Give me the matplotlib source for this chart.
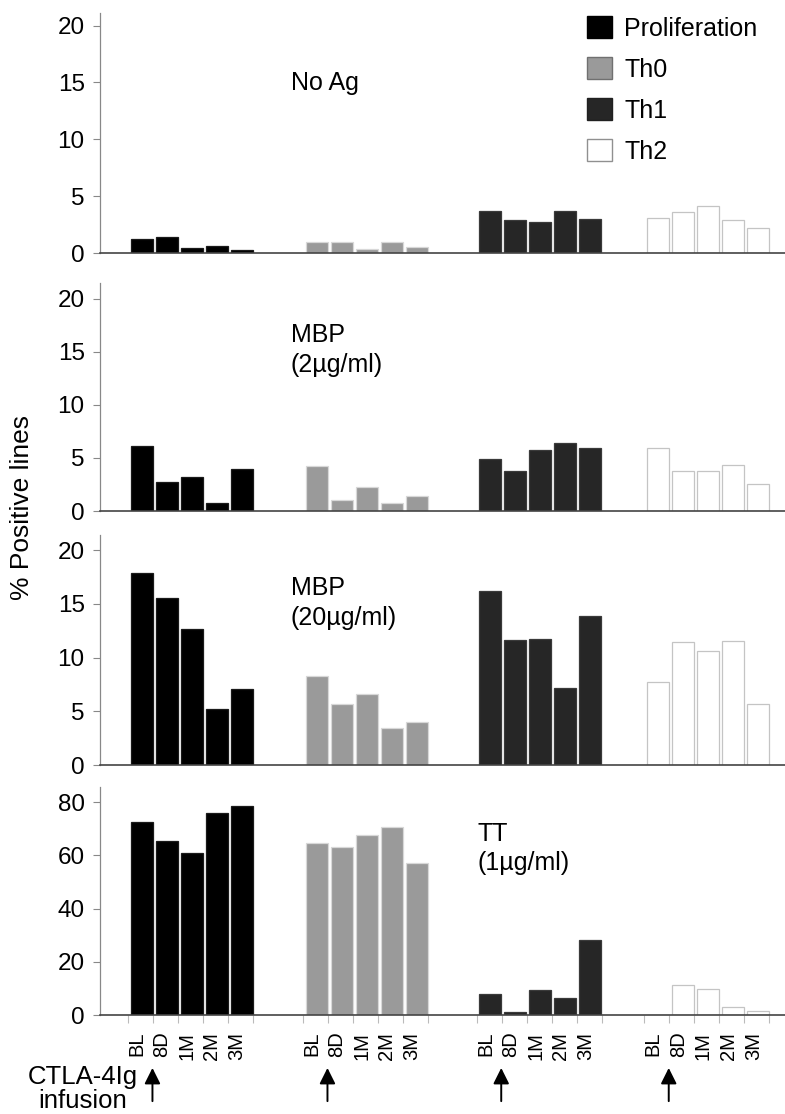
import numpy as np
import matplotlib.pyplot as plt
from matplotlib.patches import Patch

plt.rcParams['font.family'] = ['Liberation Sans', 'DejaVu Sans']

timepoints = ['BL', '8D', '1M', '2M', '3M']
series = ['Proliferation', 'Th0', 'Th1', 'Th2']

# % positive lines per panel, series order: Proliferation, Th0, Th1, Th2
noag_prolif = [1.2, 1.4, 0.4, 0.6, 0.25]
noag_th0 = [1.0, 1.0, 0.35, 1.0, 0.55]
noag_th1 = [3.7, 2.9, 2.7, 3.7, 3.0]
noag_th2 = [3.1, 3.6, 4.1, 2.9, 2.2]

mbp2_prolif = [6.1, 2.7, 3.2, 0.75, 4.0]
mbp2_th0 = [4.2, 1.0, 2.3, 0.8, 1.4]
mbp2_th1 = [4.9, 3.8, 5.75, 6.4, 5.9]
mbp2_th2 = [5.9, 3.75, 3.8, 4.3, 2.5]

mbp20_prolif = [17.9, 15.5, 12.7, 5.2, 7.1]
mbp20_th0 = [8.3, 5.65, 6.6, 3.45, 4.0]
mbp20_th1 = [16.2, 11.6, 11.7, 7.2, 13.9]
mbp20_th2 = [7.7, 11.4, 10.6, 11.5, 5.65]

tt_prolif = [72.4, 65.4, 60.8, 75.9, 78.5]
tt_th0 = [64.8, 63.0, 67.6, 70.8, 57.0]
tt_th1 = [7.8, 1.2, 9.5, 6.3, 28.1]
tt_th2 = [0, 11.2, 9.7, 2.9, 1.4]

panels = [
    ('No Ag', [noag_prolif, noag_th0, noag_th1, noag_th2]),
    ('MBP\n(2\u00b5g/ml)', [mbp2_prolif, mbp2_th0, mbp2_th1, mbp2_th2]),
    ('MBP\n(20\u00b5g/ml)', [mbp20_prolif, mbp20_th0, mbp20_th1, mbp20_th2]),
    ('TT\n(1\u00b5g/ml)', [tt_prolif, tt_th0, tt_th1, tt_th2]),
]

fills = ['#000000', '#9a9a9a', '#262626', '#ffffff']
edges = ['#1a1a1a', '#d8d8d8', '#3a3a3a', '#c4c4c4']
group_start = [0, 7, 13.95, 20.65]

W, H = 785, 1114
fig = plt.figure(figsize=(W / 100, H / 100), dpi=100)

# axes boxes in pixels: (bottom, top)
boxes = [(253, 13), (511, 283), (765, 535), (1015, 787)]
ylims = [21.1, 21.5, 21.4, 85.7]
yticks = [[0, 5, 10, 15, 20]] * 3 + [[0, 20, 40, 60, 80]]
label_pos = [(5.97, 16.0), (5.97, 17.7), (5.97, 17.6), (13.45, 72.7)]

axes = []
for k, (title, data) in enumerate(panels):
    b, t = boxes[k]
    ax = fig.add_axes([100 / W, 1 - b / H, (W - 100) / W, (b - t) / H])
    for s in range(4):
        pos = group_start[s] + np.arange(5)
        ax.bar(pos, data[s], width=0.88, color=fills[s], edgecolor=edges[s], linewidth=0.9)
    ax.set_xlim(-1.668, 25.73)
    ax.set_ylim(0, ylims[k])
    ax.set_yticks(yticks[k])
    ax.tick_params(axis='y', length=5, width=0.8, color='#888888', pad=6, labelsize=17.5)
    ax.spines['top'].set_visible(False)
    ax.spines['right'].set_visible(False)
    ax.spines['left'].set_color('#888888')
    ax.spines['left'].set_linewidth(0.9)
    ax.spines['bottom'].set_color('#444444')
    ax.spines['bottom'].set_linewidth(1.2)
    ax.set_xticks([])
    ax.text(label_pos[k][0], label_pos[k][1], title, fontsize=18, ha='left', va='top',
            linespacing=1.3)
    axes.append(ax)

# bottom panel: time-point labels and slot ticks
ax = axes[-1]
lab_x, tick_x = [], []
for s in range(4):
    pos = group_start[s] + np.arange(5)
    lab_x += list(pos - 0.19)
    tick_x += list(pos - 0.55) + [pos[-1] + 0.45]
ax.set_xticks(lab_x)
ax.set_xticklabels(timepoints * 4, rotation=90, fontsize=14.5)
ax.tick_params(axis='x', which='major', length=0, pad=12)
ax.set_xticks(tick_x, minor=True)
ax.tick_params(axis='x', which='minor', length=6, width=0.8, color='#bbbbbb')

for s in range(4):
    x = group_start[s] + 0.43
    ax.annotate('', xy=(x, -0.22), xytext=(x, -0.39),
                xycoords=('data', 'axes fraction'), textcoords=('data', 'axes fraction'),
                arrowprops=dict(arrowstyle='-|>', color='black', lw=1.4, mutation_scale=24),
                annotation_clip=False)

fig.text(83 / W, 1 - 1065 / H, 'CTLA-4Ig\ninfusion', fontsize=18.5, ha='center', va='top',
         linespacing=1.0)
fig.text(22 / W, 1 - 508 / H, '% Positive lines', fontsize=19, rotation=90,
         ha='center', va='center')

handles = [Patch(facecolor=fills[i], edgecolor=['#000000', '#707070', '#202020', '#909090'][i],
                 linewidth=1.0) for i in range(4)]
fig.legend(handles, series, loc='upper left', bbox_to_anchor=(587 / W, 1 - 16 / H),
           frameon=False, fontsize=18, handlelength=1.0, handleheight=1.0,
           handletextpad=0.5, labelspacing=0.65, borderpad=0, borderaxespad=0)

fig.savefig('out.png', dpi=100)
